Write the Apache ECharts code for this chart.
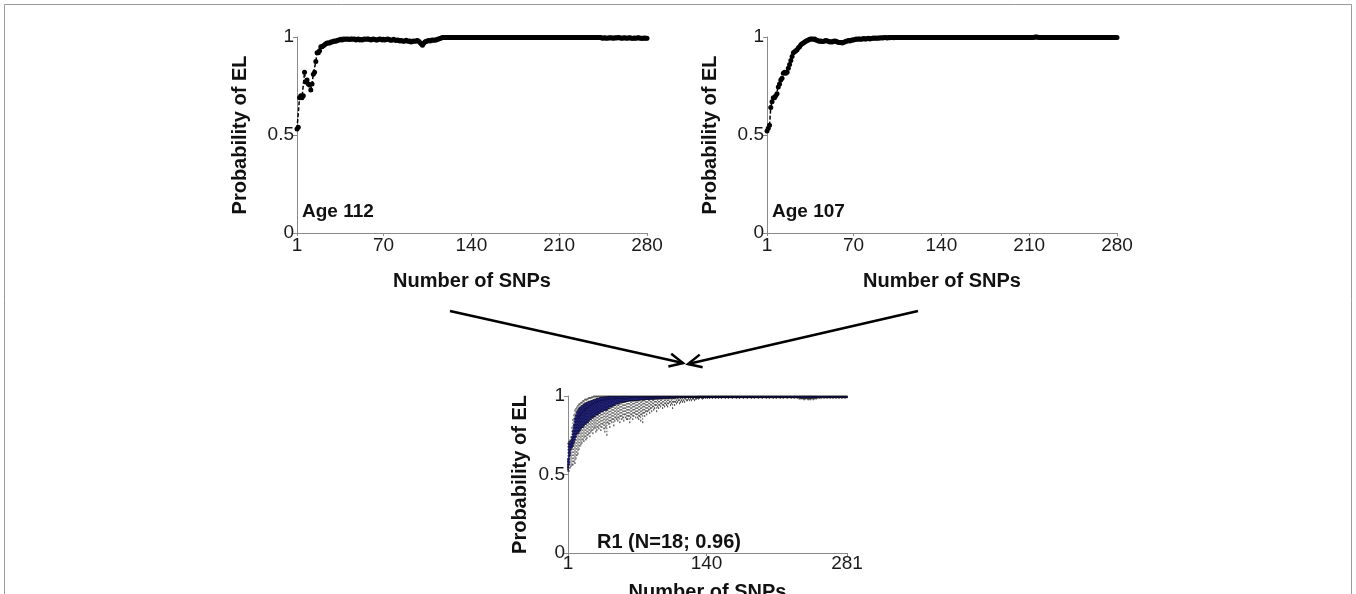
<!DOCTYPE html>
<html><head><meta charset="utf-8">
<script src="https://cdn.jsdelivr.net/npm/echarts@6/dist/echarts.min.js"></script>
<style>html,body{margin:0;padding:0;background:#fff}#c{width:1356px;height:594px}</style>
</head><body><div id="c"></div>
<script>
// ---- data ----
const age112 = [
.53,.54,.69,.70,.69,.70,.82,.77,.78,.76,
.755,.73,.76,.81,.82,.875,.92,.92,.93,.95,
.95,.955,.96,.965,.97,.97,.97,.975,.975,.978,
.98,.978,.982,.985,.985,.988,.985,.99,.988,.99,
.988,.99,.987,.99,.99,.988,.99,.985,.988,.99,
.985,.987,.985,.988,.99,.988,.99,.99,.987,.985,
.988,.99,.987,.985,.985,.988,.99,.988,.985,.988,
.985,.987,.99,.988,.985,.983,.985,.988,.985,.982,
.985,.983,.98,.982,.98,.978,.98,.983,.98,.978,
.98,.975,.978,.98,.978,.98,.982,.978,.972,.965,
.958,.968,.975,.978,.98,.982,.98,.983,.985,.983,
.985,.985,.988,.99,.992,.995,.997,.998,.998,.998,
.998,.998,.998,.998,.998,.998,.998,.998,.998,.998,
.998,.998,.998,.998,.998,.998,.998,.998,.998,.998,
.998,.998,.998,.998,.998,.998,.998,.998,.998,.998,
.998,.998,.998,.998,.998,.998,.998,.998,.998,.998,
.998,.998,.998,.998,.998,.998,.998,.998,.998,.998,
.998,.998,.998,.998,.998,.998,.998,.998,.998,.998,
.998,.998,.998,.998,.998,.998,.998,.998,.998,.998,
.998,.998,.998,.998,.998,.998,.998,.998,.998,.998,
.998,.998,.998,.998,.998,.998,.998,.998,.998,.998,
.998,.998,.998,.998,.998,.998,.998,.998,.998,.998,
.998,.998,.998,.998,.998,.998,.998,.998,.998,.998,
.998,.998,.998,.998,.998,.998,.998,.998,.998,.998,
.998,.998,.997,.995,.994,.996,.995,.993,.995,.996,
.995,.996,.994,.995,.996,.995,.997,.996,.995,.994,
.995,.996,.995,.994,.995,.996,.995,.994,.993,.995,
.994,.995,.996,.995,.994,.993,.994,.995,.994,.993
];
const age107 = [
.52,.535,.55,.64,.67,.69,.69,.70,.71,.745,
.76,.78,.79,.815,.82,.815,.82,.84,.86,.88,
.90,.92,.925,.93,.935,.945,.95,.96,.965,.97,
.975,.978,.982,.985,.988,.99,.99,.988,.99,.985,
.983,.98,.978,.98,.977,.978,.98,.982,.98,.978,
.975,.976,.975,.978,.98,.978,.975,.973,.972,.972,
.97,.973,.975,.978,.98,.982,.98,.983,.985,.985,
.987,.99,.988,.99,.99,.988,.99,.992,.99,.99,
.992,.993,.99,.992,.993,.995,.993,.995,.993,.995,
.995,.996,.995,.996,.997,.996,.995,.997,.996,.997,
.997,.996,.997,.998,.997,.998,.997,.998,.998,.997,
.998,.998,.998,.998,.998,.998,.998,.998,.998,.998,
.998,.998,.998,.998,.998,.998,.998,.998,.998,.998,
.998,.998,.998,.998,.998,.998,.998,.998,.998,.998,
.998,.998,.998,.998,.998,.998,.998,.998,.998,.998,
.998,.998,.998,.998,.998,.998,.998,.998,.998,.998,
.998,.998,.998,.998,.998,.998,.998,.998,.998,.998,
.998,.998,.998,.998,.998,.998,.998,.998,.998,.998,
.998,.998,.998,.998,.998,.998,.998,.998,.998,.998,
.998,.998,.998,.998,.998,.998,.998,.998,.998,.998,
.998,.998,.998,.998,.998,.998,.998,.998,.998,.998,
.998,.998,.998,.999,1,1,.999,.998,.998,.998,
.998,.998,.998,.998,.998,.998,.998,.998,.998,.998,
.998,.998,.998,.998,.998,.998,.998,.998,.998,.998,
.998,.998,.998,.998,.998,.998,.998,.998,.998,.998,
.998,.998,.998,.998,.998,.998,.998,.998,.998,.998,
.998,.998,.998,.998,.998,.998,.998,.998,.998,.998,
.998,.998,.998,.998,.998,.998,.998,.998,.998,.998
];
// R1 boxplot statistics per SNP (1..281)
const boxLow = [
.52,.52,.54,.55,.56,.56,.58,.57,.60,.62,
.63,.66,.68,.69,.70,.72,.71,.74,.72,.73,
.75,.76,.74,.77,.78,.76,.79,.80,.77,.78,
.80,.79,.81,.78,.80,.82,.79,.77,.80,.75,
.83,.82,.80,.84,.83,.85,.81,.84,.86,.85,
.84,.86,.83,.87,.85,.86,.84,.88,.86,.85,
.85,.87,.83,.86,.88,.85,.87,.89,.86,.88,
.86,.85,.87,.84,.88,.83,.89,.87,.90,.88,
.90,.91,.89,.92,.90,.93,.91,.92,.94,.90,
.93,.92,.94,.93,.95,.92,.94,.93,.95,.94,
.93,.95,.96,.94,.95,.92,.96,.94,.96,.95,
.96,.97,.95,.96,.97,.96,.97,.96,.98,.97,
.97,.98,.97,.98,.97,.98,.98,.97,.98,.98,
.985,.98,.985,.99,.985,.98,.985,.99,.985,.99,
.985,.99,.985,.99,.99,.985,.99,.99,.985,.99,
.99,.985,.99,.99,.985,.99,.99,.99,.985,.99,
.99,.985,.99,.99,.99,.985,.99,.99,.99,.985,
.99,.99,.985,.99,.99,.99,.985,.99,.99,.99,
.985,.99,.99,.99,.985,.99,.99,.985,.99,.99,
.99,.985,.99,.99,.99,.985,.99,.99,.99,.985,
.99,.99,.985,.99,.99,.99,.985,.99,.99,.985,
.99,.99,.99,.985,.99,.99,.985,.99,.99,.99,
.985,.99,.99,.99,.985,.99,.99,.985,.99,.99,
.985,.99,.98,.985,.98,.985,.98,.975,.98,.985,
.98,.975,.98,.975,.98,.985,.975,.98,.985,.98,
.985,.99,.985,.99,.985,.99,.99,.985,.99,.99,
.985,.99,.99,.985,.99,.99,.985,.99,.99,.985,
.99,.99,.985,.99,.99,.985,.99,.99,.985,.99,.99
];
const boxQ1 = [
.53,.56,.62,.66,.67,.68,.70,.72,.74,.76,
.76,.77,.78,.79,.80,.80,.81,.82,.82,.83,
.83,.84,.85,.85,.86,.86,.87,.87,.88,.88,
.88,.89,.89,.90,.90,.90,.91,.91,.91,.91,
.92,.92,.93,.93,.93,.94,.94,.94,.95,.95,
.95,.95,.96,.96,.96,.96,.96,.965,.965,.965,
.965,.97,.97,.97,.97,.97,.97,.97,.972,.972,
.972,.975,.975,.975,.975,.975,.977,.977,.977,.978,
.978,.978,.98,.98,.98,.98,.98,.98,.982,.982,
.982,.982,.983,.983,.983,.984,.984,.984,.985,.985,
.985,.985,.986,.986,.986,.987,.987,.987,.988,.988,
.988,.988,.989,.989,.989,.99,.99,.99,.99,.99,
.99,.99,.99,.99,.99,.99,.99,.99,.99,.99,
.99,.99,.99,.99,.99,.99,.99,.99,.99,.99,
.99,.99,.99,.99,.99,.99,.99,.99,.99,.99,
.99,.99,.99,.99,.99,.99,.99,.99,.99,.99,
.99,.99,.99,.99,.99,.99,.99,.99,.99,.99,
.99,.99,.99,.99,.99,.99,.99,.99,.99,.99,
.99,.99,.99,.99,.99,.99,.99,.99,.99,.99,
.99,.99,.99,.99,.99,.99,.99,.99,.99,.99,
.99,.99,.99,.99,.99,.99,.99,.99,.99,.99,
.99,.99,.99,.99,.99,.99,.99,.99,.99,.99,
.99,.99,.99,.99,.99,.99,.99,.99,.99,.99,
.99,.99,.988,.988,.987,.988,.987,.986,.987,.988,
.987,.986,.987,.986,.987,.988,.987,.988,.988,.988,
.99,.99,.99,.99,.99,.99,.99,.99,.99,.99,
.99,.99,.99,.99,.99,.99,.99,.99,.99,.99,
.99,.99,.99,.99,.99,.99,.99,.99,.99,.99,.99
];
const boxMedian = [
.55,.64,.68,.69,.70,.72,.74,.78,.80,.84,
.86,.87,.88,.88,.89,.90,.91,.91,.92,.92,
.93,.93,.94,.94,.95,.95,.95,.96,.96,.96,
.965,.965,.97,.97,.97,.975,.975,.975,.98,.98,
.98,.98,.982,.982,.982,.983,.983,.984,.984,.985,
.985,.985,.985,.985,.985,.985,.985,.985,.985,.985,
.986,.986,.987,.987,.987,.988,.988,.988,.989,.989,
.989,.99,.99,.99,.99,.99,.99,.99,.99,.99,
.99,.99,.99,.99,.99,.991,.991,.991,.991,.991,
.991,.991,.991,.992,.992,.992,.992,.992,.992,.992,
.992,.992,.992,.992,.992,.993,.993,.993,.993,.993,
.993,.993,.993,.993,.993,.994,.994,.994,.994,.994,
.994,.994,.994,.994,.994,.995,.995,.995,.995,.995,
.995,.995,.995,.995,.995,.995,.995,.995,.995,.995,
.995,.995,.995,.995,.995,.995,.995,.995,.995,.995,
.995,.995,.995,.995,.995,.995,.995,.995,.995,.995,
.995,.995,.995,.995,.995,.995,.995,.995,.995,.995,
.995,.995,.995,.995,.995,.995,.995,.995,.995,.995,
.995,.995,.995,.995,.995,.995,.995,.995,.995,.995,
.995,.995,.995,.995,.995,.995,.995,.995,.995,.995,
.995,.995,.995,.995,.995,.995,.995,.995,.995,.995,
.995,.995,.995,.995,.995,.995,.995,.995,.995,.995,
.995,.995,.995,.995,.995,.995,.995,.995,.995,.995,
.995,.995,.994,.994,.993,.994,.993,.993,.993,.994,
.993,.993,.993,.993,.993,.994,.994,.994,.995,.995,
.995,.995,.995,.995,.995,.995,.995,.995,.995,.995,
.995,.995,.995,.995,.995,.995,.995,.995,.995,.995,
.995,.995,.995,.995,.995,.995,.995,.995,.995,.995,.995
];
const boxQ3 = [
.60,.70,.71,.72,.74,.78,.82,.86,.88,.90,
.91,.92,.93,.93,.94,.94,.95,.95,.955,.96,
.96,.965,.965,.97,.97,.975,.975,.98,.98,.985,
.985,.985,.99,.99,.99,.992,.992,.994,.995,.995,
.997,.997,.997,.997,.997,.997,.997,.997,.997,.997,
.997,.997,.997,.997,.997,.997,.997,.997,.997,.997,
.997,.997,.997,.997,.997,.997,.997,.997,.997,.997,
.997,.997,.997,.997,.997,.997,.997,.997,.997,.997,
.997,.997,.997,.997,.997,.997,.997,.997,.997,.997,
.997,.997,.997,.997,.997,.997,.997,.997,.997,.997,
.997,.997,.997,.997,.997,.997,.997,.997,.997,.997,
.997,.997,.997,.997,.997,.997,.997,.997,.997,.997,
.997,.997,.997,.997,.997,.997,.997,.997,.997,.997,
.998,.998,.998,.998,.998,.998,.998,.998,.998,.998,
.998,.998,.998,.998,.998,.998,.998,.998,.998,.998,
.998,.998,.998,.998,.998,.998,.998,.998,.998,.998,
.998,.998,.998,.998,.998,.998,.998,.998,.998,.998,
.998,.998,.998,.998,.998,.998,.998,.998,.998,.998,
.998,.998,.998,.998,.998,.998,.998,.998,.998,.998,
.998,.998,.998,.998,.998,.998,.998,.998,.998,.998,
.998,.998,.998,.998,.998,.998,.998,.998,.998,.998,
.998,.998,.998,.998,.998,.998,.998,.998,.998,.998,
.998,.998,.998,.998,.998,.998,.998,.998,.998,.998,
.998,.998,.998,.998,.998,.998,.998,.998,.998,.998,
.998,.998,.998,.998,.998,.998,.998,.998,.998,.998,
.998,.998,.998,.998,.998,.998,.998,.998,.998,.998,
.998,.998,.998,.998,.998,.998,.998,.998,.998,.998,
.998,.998,.998,.998,.998,.998,.998,.998,.998,.998,.998
];
const boxHigh = [
.70,.71,.72,.74,.80,.85,.88,.91,.92,.93,
.94,.95,.95,.96,.96,.97,.97,.98,.98,.98,
.985,.99,.99,.99,.995,.995,1,1,1,1,
1,1,1,1,1,1,1,1,1,1,
1,1,1,1,1,1,1,1,1,1,
1,1,1,1,1,1,1,1,1,1,
1,1,1,1,1,1,1,1,1,1,
1,1,1,1,1,1,1,1,1,1,
1,1,1,1,1,1,1,1,1,1,
1,1,1,1,1,1,1,1,1,1,
1,1,1,1,1,1,1,1,1,1,
1,1,1,1,1,1,1,1,1,1,
1,1,1,1,1,1,1,1,1,1,
1,1,1,1,1,1,1,1,1,1,
1,1,1,1,1,1,1,1,1,1,
1,1,1,1,1,1,1,1,1,1,
1,1,1,1,1,1,1,1,1,1,
1,1,1,1,1,1,1,1,1,1,
1,1,1,1,1,1,1,1,1,1,
1,1,1,1,1,1,1,1,1,1,
1,1,1,1,1,1,1,1,1,1,
1,1,1,1,1,1,1,1,1,1,
1,1,1,1,1,1,1,1,1,1,
1,1,1,1,1,1,1,1,1,1,
1,1,1,1,1,1,1,1,1,1,
1,1,1,1,1,1,1,1,1,1,
1,1,1,1,1,1,1,1,1,1,
1,1,1,1,1,1,1,1,1,1,1
];
const topXTicks = [1, 70, 140, 210, 280];
const bottomXTicks = [1, 140, 281];
const yTicks = [0, 0.5, 1];
const panelLabels = ['Age 112', 'Age 107', 'R1 (N=18; 0.96)'];
const snpCategories = boxLow.map((_, i) => String(i + 1));

// ---- chart ----
const FONT = 'Arial, "Liberation Sans", sans-serif';
const axisGray = '#8a8a8a';
const chart = echarts.init(document.getElementById('c'), null, {renderer: 'canvas'});

function yAxisCfg(gridIndex, gap) {
  return {
    type: 'value', gridIndex, min: 0, max: 1, interval: 0.5,
    name: 'Probability of EL', nameLocation: 'middle', nameGap: gap,
    nameTextStyle: {fontFamily: FONT, fontWeight: 'bold', fontSize: 20, color: '#111'},
    axisLine: {show: true, lineStyle: {color: axisGray, width: 1}},
    axisTick: {show: true, length: 4, lineStyle: {color: axisGray}},
    axisLabel: {fontFamily: FONT, fontSize: 19, color: '#1a1a1a', margin: 3,
      customValues: yTicks},
    splitLine: {show: false}
  };
}
function topXAxis(gridIndex) {
  return {
    type: 'value', gridIndex, min: 1, max: 280,
    name: 'Number of SNPs', nameLocation: 'middle', nameGap: 38,
    nameTextStyle: {fontFamily: FONT, fontWeight: 'bold', fontSize: 20, color: '#111'},
    axisLine: {show: true, onZero: false, lineStyle: {color: axisGray, width: 1}},
    axisTick: {show: true, length: 3, customValues: topXTicks, lineStyle: {color: axisGray}},
    axisLabel: {fontFamily: FONT, fontSize: 19, color: '#1a1a1a', margin: 3,
      customValues: topXTicks},
    splitLine: {show: false}
  };
}
function lineSeries(idx, values) {
  return {
    type: 'line', xAxisIndex: idx, yAxisIndex: idx,
    data: values.map((v, i) => [i + 1, v]),
    symbol: 'circle', symbolSize: 5, showAllSymbol: true,
    itemStyle: {color: '#000'},
    lineStyle: {color: '#000', width: 1.5, type: [4, 2]},
    emphasis: {disabled: true}, silent: true
  };
}

// arrows (decoration)
function arrow(x1, y1, x2, y2) {
  const ang = Math.atan2(y2 - y1, x2 - x1);
  const L = 15, a = Math.PI / 7;
  const p1 = [x2 - L * Math.cos(ang - a), y2 - L * Math.sin(ang - a)];
  const p2 = [x2 - L * Math.cos(ang + a), y2 - L * Math.sin(ang + a)];
  return [
    {type: 'line', shape: {x1, y1, x2, y2}, style: {stroke: '#000', lineWidth: 2.5}},
    {type: 'polyline', shape: {points: [p1, [x2, y2], p2]}, style: {stroke: '#000', lineWidth: 2.5, fill: null}}
  ];
}

const option = {
  animation: false,
  backgroundColor: '#fff',
  grid: [
    {left: 297, top: 37, width: 350, height: 196, outerBoundsMode: 'none', containLabel: false},
    {left: 767, top: 37, width: 350, height: 196, outerBoundsMode: 'none', containLabel: false},
    {left: 568, top: 396, width: 279, height: 157, outerBoundsMode: 'none', containLabel: false}
  ],
  xAxis: [
    topXAxis(0),
    topXAxis(1),
    {
      type: 'category', gridIndex: 2, data: snpCategories, boundaryGap: false,
      name: 'Number of SNPs', nameLocation: 'middle', nameGap: 29,
      nameTextStyle: {fontFamily: FONT, fontWeight: 'bold', fontSize: 20, color: '#111'},
      axisLine: {show: true, onZero: false, lineStyle: {color: axisGray, width: 1}},
      axisTick: {show: true, length: 3, alignWithLabel: true,
        interval: (i, v) => bottomXTicks.indexOf(Number(v)) >= 0, lineStyle: {color: axisGray}},
      axisLabel: {fontFamily: FONT, fontSize: 19, color: '#1a1a1a', margin: 1,
        interval: (i, v) => bottomXTicks.indexOf(Number(v)) >= 0},
      splitLine: {show: false}
    },
    {
      type: 'category', gridIndex: 2, data: snpCategories, boundaryGap: false, show: false
    }
  ],
  yAxis: [
    yAxisCfg(0, 47),
    yAxisCfg(1, 47),
    yAxisCfg(2, 38),
    {type: 'value', gridIndex: 2, min: 0, max: 1, show: false}
  ],
  series: [
    lineSeries(0, age112),
    lineSeries(1, age107),
    {
      type: 'boxplot', xAxisIndex: 2, yAxisIndex: 2,
      data: boxLow.map((v, i) => [v, boxQ1[i], boxMedian[i], boxQ3[i], boxHigh[i]]),
      boxWidth: [1, 1],
      itemStyle: {color: 'rgba(0,0,0,0)', borderColor: '#262626', borderWidth: 0.8, borderType: [1.5, 1.5]},
      emphasis: {disabled: true}, silent: true, z: 2
    },
    {
      type: 'boxplot', xAxisIndex: 3, yAxisIndex: 3,
      data: boxLow.map((v, i) => [boxQ1[i], boxQ1[i], boxMedian[i], boxQ3[i], boxQ3[i]]),
      boxWidth: [1, 1],
      itemStyle: {color: '#2626cc', borderColor: '#000', borderWidth: 0.35},
      emphasis: {disabled: true}, silent: true, z: 3
    }
  ],
  graphic: [
    {type: 'rect', shape: {x: 4.5, y: 4.5, width: 1347, height: 600}, style: {fill: null, stroke: '#9a9a9a', lineWidth: 1}, silent: true},
    {type: 'text', left: 302, top: 202, style: {text: panelLabels[0], font: 'bold 19px ' + FONT, fill: '#111'}},
    {type: 'text', left: 772, top: 202, style: {text: panelLabels[1], font: 'bold 19px ' + FONT, fill: '#111'}},
    {type: 'text', left: 597, top: 532, style: {text: panelLabels[2], font: 'bold 20px ' + FONT, fill: '#111'}},
    ...arrow(450, 311, 683, 363),
    ...arrow(918, 311, 688, 364)
  ]
};
chart.setOption(option);
</script>
</body></html>
